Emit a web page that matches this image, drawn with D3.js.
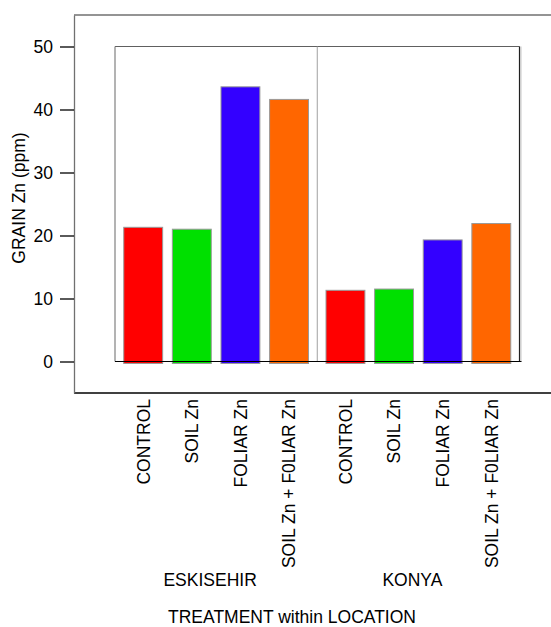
<!DOCTYPE html>
<html>
<head>
<meta charset="utf-8">
<script src="https://cdn.jsdelivr.net/npm/d3@7"></script>
<style>
  body { margin: 0; background: #fff; }
  text { font-family: "Liberation Sans", Arial, sans-serif; fill: #000; }
</style>
</head>
<body>
<svg id="chart" width="551" height="627"></svg>
<script>
const locations = ['ESKISEHIR', 'KONYA']
const treatments = ['CONTROL', 'SOIL Zn', 'FOLIAR Zn', 'SOIL Zn + F0LIAR Zn']
const eskisehirValues = [21.3, 21.0, 43.6, 41.6]
const konyaValues = [11.3, 11.5, 19.3, 21.9]
const yTicks = [0, 10, 20, 30, 40, 50]
const colors = ['#ff0000', '#00e000', '#3300ff', '#ff6600']

const valuesByLocation = { ESKISEHIR: eskisehirValues, KONYA: konyaValues }
const rows = []
locations.forEach(loc => {
  treatments.forEach((t, i) => rows.push({ loc, t, i, v: valuesByLocation[loc][i] }))
})

const svg = d3.select('#chart')
const FONT = 17.5

// scales
const y = d3.scaleLinear().domain([-5, 55]).range([393, 15])
const xg = d3.scaleBand().domain(locations).range([115, 519.5])
const xi = d3.scaleBand().domain(treatments).range([0, xg.bandwidth()])
  .paddingInner(0.2).paddingOuter(0.18)

// outer frame: top and bottom
svg.append('line')
  .attr('x1', 74).attr('x2', 551).attr('y1', y(55)).attr('y2', y(55))
  .attr('stroke', '#707070').attr('stroke-width', 1.3)
svg.append('line')
  .attr('x1', 74).attr('x2', 551).attr('y1', y(-5)).attr('y2', y(-5))
  .attr('stroke', '#000').attr('stroke-width', 1.3)

// y axis
const yAxis = svg.append('g')
  .attr('transform', 'translate(74,0)')
  .call(d3.axisLeft(y).tickValues(yTicks).tickSize(14).tickSizeOuter(0).tickPadding(7))
yAxis.select('.domain').attr('stroke', '#707070').attr('stroke-width', 1.3)
yAxis.selectAll('.tick line').attr('stroke', '#000').attr('stroke-width', 1.3)
yAxis.selectAll('.tick text')
  .attr('font-size', FONT)
  .attr('font-family', '"Liberation Sans", Arial, sans-serif')
  .attr('fill', '#000')

// inner frame
const x0 = xg.range()[0], x1 = xg.range()[1]
svg.append('line')
  .attr('x1', x0).attr('x2', x1).attr('y1', y(50)).attr('y2', y(50))
  .attr('stroke', '#606060').attr('stroke-width', 1.2)
svg.append('line')
  .attr('x1', x0).attr('x2', x0).attr('y1', y(50)).attr('y2', y(0))
  .attr('stroke', '#808080').attr('stroke-width', 1.2)
svg.append('line')
  .attr('x1', x1 + 1.5).attr('x2', x1 + 1.5).attr('y1', y(50)).attr('y2', y(0))
  .attr('stroke', '#d0d0d0').attr('stroke-width', 1.2)
svg.append('line')
  .attr('x1', x1).attr('x2', x1).attr('y1', y(50)).attr('y2', y(0))
  .attr('stroke', '#202020').attr('stroke-width', 1.2)

// divider between locations
svg.append('line')
  .attr('x1', xg('KONYA')).attr('x2', xg('KONYA')).attr('y1', y(50)).attr('y2', y(0))
  .attr('stroke', '#a0a0a0').attr('stroke-width', 1)

// bars
svg.append('g')
  .selectAll('rect')
  .data(rows)
  .enter()
  .append('rect')
  .attr('x', d => xg(d.loc) + xi(d.t))
  .attr('y', d => y(d.v))
  .attr('width', xi.bandwidth())
  .attr('height', d => y(0) - y(d.v) + 2)
  .attr('fill', d => colors[d.i])
  .attr('stroke', '#999')
  .attr('stroke-width', 1)

// zero line
svg.append('line')
  .attr('x1', x0).attr('x2', x1 + 2).attr('y1', y(0)).attr('y2', y(0))
  .attr('stroke', '#000').attr('stroke-width', 1.2)

// category labels (rotated)
svg.append('g')
  .selectAll('text')
  .data(rows)
  .enter()
  .append('text')
  .attr('transform', d => `translate(${xg(d.loc) + xi(d.t) + xi.bandwidth() / 2},399) rotate(-90)`)
  .attr('text-anchor', 'end')
  .attr('dy', '0.36em')
  .attr('font-size', FONT)
  .text(d => d.t)

// location labels
svg.append('g')
  .selectAll('text')
  .data(locations)
  .enter()
  .append('text')
  .attr('x', d => xg(d) + xg.bandwidth() / 2 - 6)
  .attr('y', 586)
  .attr('text-anchor', 'middle')
  .attr('font-size', FONT)
  .text(d => d)

// axis titles
svg.append('text')
  .attr('x', 292)
  .attr('y', 623)
  .attr('text-anchor', 'middle')
  .attr('font-size', 17.5)
  .text('TREATMENT within LOCATION')

svg.append('text')
  .attr('transform', `translate(25,${y(25) - 6}) rotate(-90)`)
  .attr('text-anchor', 'middle')
  .attr('font-size', FONT)
  .text('GRAIN Zn (ppm)')
</script>
</body>
</html>
